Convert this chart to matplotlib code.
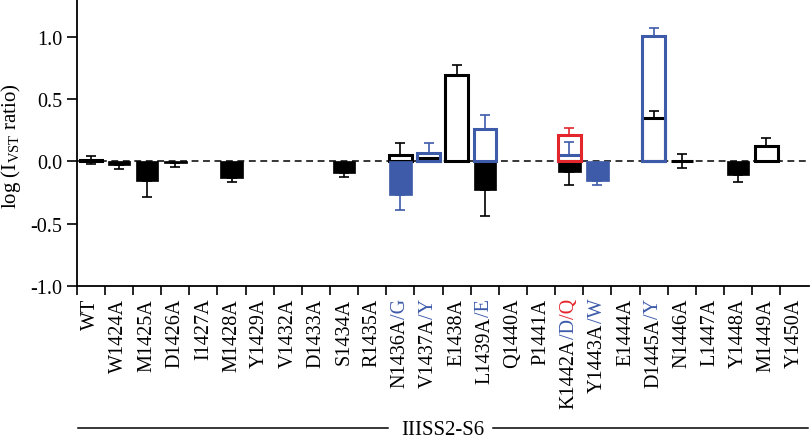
import numpy as np
import matplotlib
matplotlib.use("Agg")
import matplotlib.pyplot as plt
from matplotlib.font_manager import FontProperties
from matplotlib.transforms import offset_copy
from matplotlib.lines import Line2D

nan = np.nan

labels = ["WT", "W1424A", "M1425A", "D1426A", "I1427A", "M1428A", "Y1429A",
          "V1432A", "D1433A", "S1434A", "R1435A", "N1436A/G", "V1437A/Y",
          "E1438A", "L1439A/E", "Q1440A", "P1441A", "K1442A/D/Q", "Y1443A/W",
          "E1444A", "D1445A/Y", "N1446A", "L1447A", "Y1448A", "M1449A", "Y1450A"]

# alanine substitutions (black)
ala_vals = [0.01, -0.03, -0.155, -0.012, nan, -0.135, nan, nan, nan, -0.094,
            nan, 0.05, 0.03, 0.69, -0.23, nan, nan, -0.083, nan, nan, 0.348,
            0.0, nan, -0.11, 0.125, nan]
ala_err = [0.03, 0.032, 0.135, 0.03, nan, 0.035, nan, nan, nan, 0.03,
           nan, 0.10, 0.0, 0.08, 0.21, nan, nan, 0.105, nan, nan, 0.06,
           0.055, nan, 0.053, 0.06, nan]

# second substitution (blue)
sub2_vals = [nan] * 11 + [-0.27, 0.065, nan, 0.26, nan, nan, 0.053, -0.155,
                          nan, 1.009, nan, nan, nan, nan, nan]
sub2_err = [nan] * 11 + [0.12, 0.085, nan, 0.11, nan, nan, 0.10, 0.035,
                         nan, 0.06, nan, nan, nan, nan, nan]

# third substitution (red)
sub3_vals = [nan] * 17 + [0.214] + [nan] * 8
sub3_err = [nan] * 17 + [0.056] + [nan] * 8

# near-zero bars with error shown both ways
two_sided = ["WT", "N1446A"]

yticks = [-1.0, -0.5, 0.0, 0.5, 1.0]

SERIF = "Liberation Serif"
BLUE = "#3d5ba9"
RED = "#e3262b"
colors = ["black", BLUE, RED]
TICK_FS = 14.5
LABEL_PAD = 12

plt.rcParams["font.family"] = SERIF
plt.rcParams["axes.unicode_minus"] = False
plt.rcParams["mathtext.fontset"] = "custom"
plt.rcParams["mathtext.rm"] = SERIF

fig = plt.figure(figsize=(8.12, 4.39), dpi=100)
ax = fig.add_axes([0.0945, 0.3467, 0.9012, 0.6533])

x = np.arange(len(labels))
ax.axhline(0, color="black", lw=1.1, ls=(0, (4.5, 3)), zorder=1)


def draw_series(vals, errs, color):
    vals = np.array(vals, dtype=float)
    errs = np.array(errs, dtype=float)
    ok = ~np.isnan(vals)
    neg = ok & (vals < 0)
    pos = ok & (vals >= 0)
    ax.bar(x[neg], vals[neg], width=0.8, color=color, edgecolor=color,
           lw=0.5, zorder=2)
    ax.bar(x[pos], vals[pos], width=0.8, facecolor="none", edgecolor=color,
           lw=2.2, zorder=2)
    both = np.array([lab in two_sided for lab in labels])
    lo = np.where(neg | both, errs, 0.0)[ok]
    hi = np.where(pos | both, errs, 0.0)[ok]
    ax.errorbar(x[ok], vals[ok], yerr=[lo, hi], fmt="none", ecolor=color,
                elinewidth=1.2, capsize=3.5, capthick=1.2, zorder=3)


draw_series(ala_vals, ala_err, colors[0])
draw_series(sub2_vals, sub2_err, colors[1])
draw_series(sub3_vals, sub3_err, colors[2])

ax.set_xlim(-0.5, len(labels) - 0.5)
ax.set_ylim(-1.0, 1.304)
ax.set_yticks(yticks)
ax.set_yticklabels(["%.1f" % v for v in yticks])
ax.set_xticks(np.arange(len(labels)) - 0.5)
ax.set_xticklabels([])
ax.tick_params(axis="y", direction="out", length=7, width=1.2, pad=3.5,
               labelsize=TICK_FS)
ax.tick_params(axis="x", direction="out", length=6.5, width=1.2)
for side in ["top", "right"]:
    ax.spines[side].set_visible(False)
for side in ["left", "bottom"]:
    ax.spines[side].set_linewidth(1.3)

# multicoloured rotated tick labels
fig.canvas.draw()
renderer = fig.canvas.get_renderer()
prop = FontProperties(family=SERIF, size=TICK_FS)


def width_px(s):
    return renderer.get_text_width_height_descent(s, prop, ismath=False)[0]


for i, lab in enumerate(labels):
    segs = lab.split("/")
    parts = [(segs[0], colors[0])]
    parts += [("/" + s, colors[k + 1]) for k, s in enumerate(segs[1:])]
    full = width_px(lab)
    start = 0.0
    for text, col in parts:
        tr = offset_copy(ax.get_xaxis_transform(), fig=fig, x=0,
                         y=-(LABEL_PAD + full) + start, units="dots")
        ax.text(i, 0, text, rotation=90, ha="center", va="bottom", color=col,
                fontsize=TICK_FS, transform=tr, clip_on=False)
        start += width_px(text)

fig.text(11 / 812, 1 - 146 / 439, r"log (I$_{\mathrm{VST}}$ ratio)",
         rotation=90, ha="center", va="center", fontsize=15)

# region bracket
yl = 1 - 428.5 / 439
fig.add_artist(Line2D([78 / 812, 388 / 812], [yl, yl], color="black", lw=1.1))
fig.add_artist(Line2D([493 / 812, 808 / 812], [yl, yl], color="black", lw=1.1))
fig.text(443 / 812, 1 - 428.5 / 439, "IIISS2-S6", ha="center",
         va="center_baseline", fontsize=15)

fig.savefig("out.png", dpi=100)
